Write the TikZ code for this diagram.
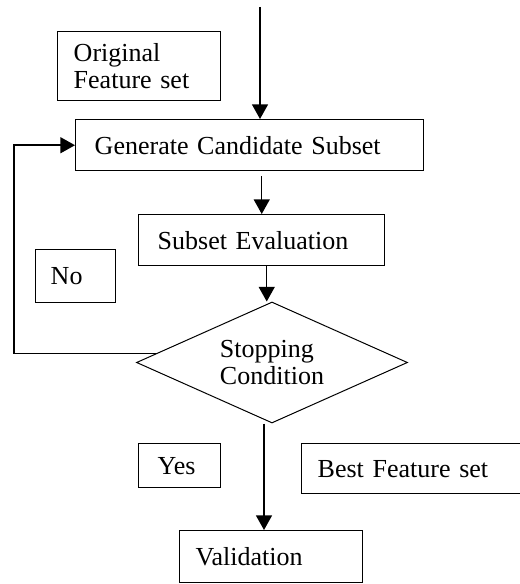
\documentclass[tikz,border=0pt]{standalone}
\usepackage{fontspec}
\setmainfont{Liberation Serif}
\usetikzlibrary{arrows.meta,shapes.geometric,calc}

\begin{document}
\begin{tikzpicture}[x=0.75pt,y=-0.75pt]

	\tikzset{box/.style = {shape=rectangle,draw,line width=1.1pt,anchor=north west,align=left,inner ysep=0pt,font=\fontsize{19.5pt}{20.25pt}\selectfont}}
	\tikzset{edge/.style = {line width=1.1pt,-{Triangle[length=11pt,width=12pt]}}}

	\useasboundingbox (0,0) rectangle (519,584);

	\node[box,minimum width=122.25pt,minimum height=51.75pt,text width=98.25pt,inner xsep=12pt] (orig) at (57,31) {Original\\Feature set};
	\node[box,minimum width=261pt,minimum height=38.25pt,text width=232.5pt,inner xsep=14.25pt] (gen) at (75,119) {Generate Candidate Subset};
	\node[box,minimum width=184.5pt,minimum height=38.25pt,text width=156pt,inner xsep=14.25pt] (eval) at (138,214) {Subset Evaluation};
	\node[box,minimum width=60pt,minimum height=39.75pt,text width=37.5pt,inner xsep=11.25pt] (no) at (35,249) {No};
	\node[box,minimum width=61.5pt,minimum height=33pt,text width=33pt,inner xsep=14.25pt] (yes) at (138,443) {Yes};
	\node[box,minimum width=171.75pt,minimum height=37.5pt,text width=147.75pt,inner xsep=12pt] (best) at (301,443) {Best Feature set};
	\node[box,minimum width=137.25pt,minimum height=39pt,text width=113.25pt,inner xsep=12pt] (val) at (179,530) {Validation};

	% decision
	\node[shape=diamond,draw,line width=0.75pt,minimum width=203.25pt,minimum height=90.75pt,aspect=2.24,inner sep=0pt,align=left,font=\fontsize{19.5pt}{20.25pt}\selectfont] (cond) at (272,362.5) {Stopping\\Condition};

	\coordinate (start) at (260,7);
	\coordinate (exit) at ($(cond.west)!0.15!(cond.north)$);
	\coordinate (corner) at (14,0);

	\draw[edge] (start) -- (start |- gen.north);
	\draw[edge,shorten <=3.75pt] (gen.south -| eval.north) -- (eval.north);
	\draw[edge] ([xshift=3.75pt]eval.south) -- ([xshift=3.75pt]eval.south |- cond.north);
	\draw[edge] ([xshift=-6pt]cond.south) -- ([xshift=-6pt]cond.south |- val.north);
	\draw[edge] (exit) -- (exit -| corner) |- (gen.west);
\end{tikzpicture}
\end{document}
